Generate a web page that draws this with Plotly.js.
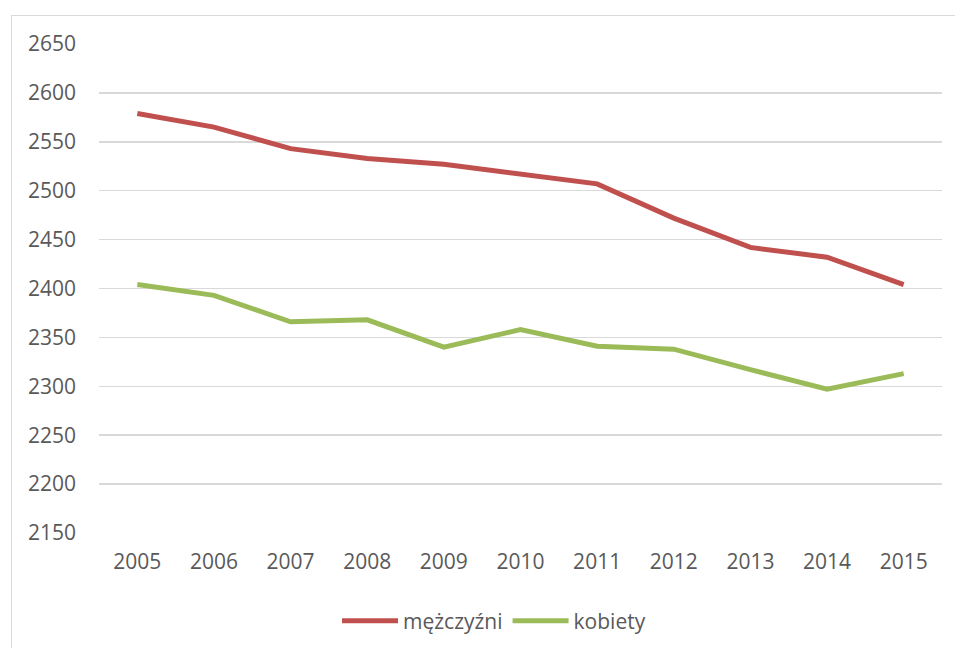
<!DOCTYPE html>
<html>
<head>
<meta charset="utf-8">
<script src="https://cdn.plot.ly/plotly-3.0.1.min.js"></script>
<style>
  html, body { margin: 0; padding: 0; background: #ffffff; overflow: hidden; }
  #wrap { position: relative; width: 955px; height: 648px; }
  #chart { width: 955px; height: 648px; }
  #frame { position: absolute; left: 11px; top: 15px; width: 1000px; height: 700px;
           border: 1.5px solid #d9d9d9; pointer-events: none; box-sizing: border-box; }
</style>
</head>
<body>
<div id="wrap">
  <div id="chart"></div>
  <div id="frame"></div>
</div>
<script>
const years = ['2005','2006','2007','2008','2009','2010','2011','2012','2013','2014','2015'];
const men   = [2579, 2565, 2543, 2533, 2527, 2517, 2507, 2472, 2442, 2432, 2404];
const women = [2404, 2393, 2366, 2368, 2340, 2358, 2341, 2338, 2317, 2297, 2313];
const yTicks = [2150, 2200, 2250, 2300, 2350, 2400, 2450, 2500, 2550, 2600, 2650];

const fontFam = 'Open Sans, Liberation Sans, sans-serif';
const textCol = '#595959';

const traces = [
  { x: years, y: men, name: 'mężczyźni', type: 'scatter', mode: 'lines',
    line: { color: '#C0504D', width: 5 } },
  { x: years, y: women, name: 'kobiety', type: 'scatter', mode: 'lines',
    line: { color: '#9BBB59', width: 5 } }
];

const layout = {
  width: 955, height: 648,
  margin: { l: 99, r: 13, t: 44, b: 115, autoexpand: false },
  paper_bgcolor: '#ffffff', plot_bgcolor: '#ffffff',
  font: { family: fontFam, size: 21, color: textCol },
  showlegend: true,
  legend: { orientation: 'h', x: 0.4686, xanchor: 'center', y: -0.18, yanchor: 'middle',
            font: { family: fontFam, size: 21, color: textCol }, itemwidth: 56 },
  xaxis: { type: 'category', range: [-0.5, 10.5], showgrid: false, zeroline: false,
           showline: false, ticks: '', ticklabelstandoff: 14,
           tickfont: { family: fontFam, size: 21, color: textCol } },
  yaxis: { range: [2150, 2650], tickvals: yTicks, showgrid: true, gridcolor: '#d9d9d9',
           gridwidth: 1.5, zeroline: false, showline: false, ticks: '',
           ticklabelstandoff: 22,
           tickfont: { family: fontFam, size: 21, color: textCol } }
};

Plotly.newPlot('chart', traces, layout, { displayModeBar: false, staticPlot: true });
</script>
</body>
</html>
